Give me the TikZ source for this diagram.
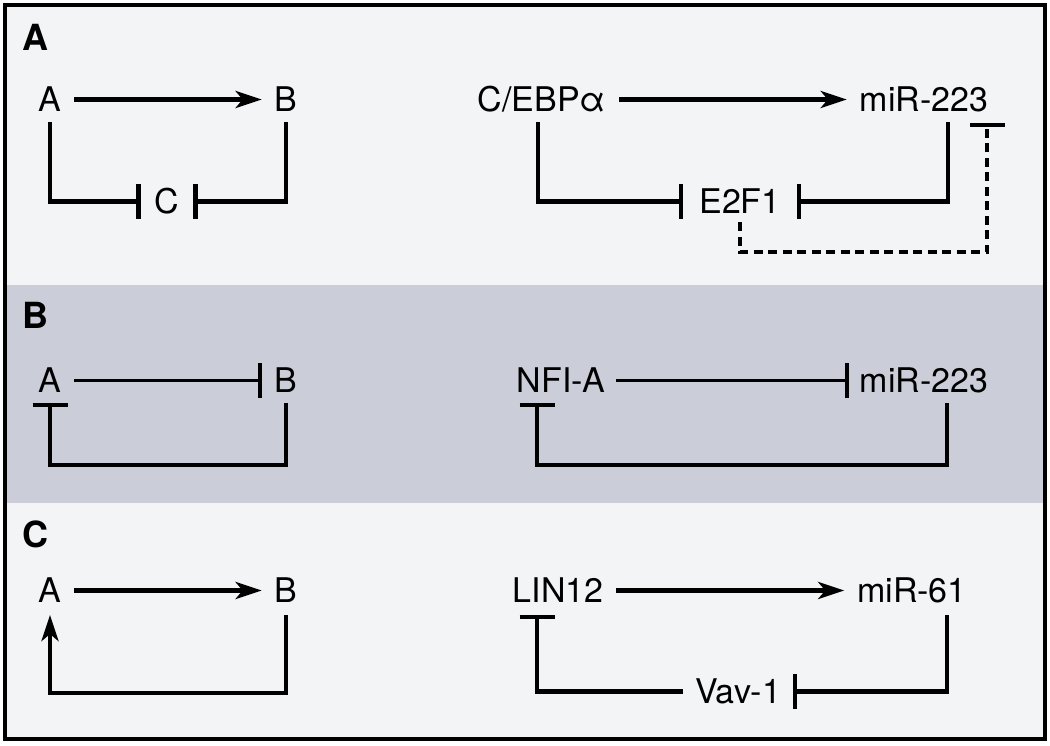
\documentclass[tikz,border=0pt]{standalone}
\usepackage{fontspec}
\setmainfont{TeX Gyre Heros}
\usetikzlibrary{arrows.meta}
\definecolor{lightbg}{HTML}{F3F4F6}
\definecolor{graybg}{HTML}{CBCDD9}
\begin{document}
\begin{tikzpicture}[x=1pt,y=1pt,
  lbl/.style={font=\fontsize{34}{38}\selectfont, inner sep=0pt, outer xsep=13pt, outer ysep=11pt,
              text height=23pt, text depth=0pt, anchor=base},
  plabel/.style={font=\bfseries\fontsize{36}{40}\selectfont, inner sep=0pt, anchor=base west},
  conn/.style={line width=4.4pt},
  act/.style={conn, -{Stealth[length=26pt,width=17pt,inset=7pt]}},
  inh/.style={conn, -{Bar[width=35pt]}},
  thin/.style={line width=3.2pt},
  dashline/.style={line width=4.2pt, dash pattern=on 9pt off 5.5pt}
]
\useasboundingbox (0,0) rectangle (1050,-745);
% backgrounds
\fill[white] (0,0) rectangle (1050,-745);
\fill[lightbg] (5,-5) rectangle (1045,-285);
\fill[graybg] (5,-285) rectangle (1045,-503);
\fill[lightbg] (5,-503) rectangle (1045,-739);
\draw[line width=4.5pt] (5,-5) rectangle (1045,-739);

% panel labels
\node[plabel] (pA) at (22,-50) {A};
\node[plabel] (pB) at (22,-328) {B};
\node[plabel] (pC) at (22,-547) {C};

% ---------- Panel A ----------
\node[lbl] (a1) at (50,-111) {A};
\node[lbl] (b1) at (286,-111) {B};
\node[lbl, outer xsep=14pt] (c1) at (167,-213) {C};
\draw[act] (a1) -- (b1);
\draw[inh] (a1.south) |- (c1.west);
\draw[inh] (b1.south) |- (c1.east);

\node[lbl] (cebp) at (542,-111) {C/EBPα};
\node[lbl] (mir1) at (924,-111) {miR-223};
\node[lbl, outer xsep=16pt, outer ysep=9pt] (e2f1) at (740,-213) {E2F1};
\draw[act] (cebp) -- (mir1);
\draw[inh] ([xshift=-4pt]cebp.south) |- (e2f1.west);
\draw[inh] ([xshift=24pt]mir1.south) |- (e2f1.east);
\coordinate (mirtee) at (987,-123);
\draw[dashline, -{Bar[width=35pt, line width=4.4pt]}] (e2f1.south) -- ++(0,-30) -| (mirtee);

% ---------- Panel B ----------
\node[lbl] (a2) at (50,-392) {A};
\node[lbl] (b2) at (286,-392) {B};
\draw[inh, line width=3.6pt] (a2) -- (b2);
\draw[inh] (b2.south) -- ++(0,-62) -| (a2.south);

\node[lbl, outer xsep=11pt] (nfia) at (561,-392) {NFI-A};
\node[lbl, outer xsep=11pt] (mir2) at (924,-392) {miR-223};
\draw[thin, -{Bar[width=35pt, line width=4pt]}] (nfia) -- (mir2);
\draw[inh] ([xshift=23pt]mir2.south) -- ++(0,-62) -| ([xshift=-24pt]nfia.south);

% ---------- Panel C ----------
\node[lbl, outer ysep=13pt] (a3) at (50,-602) {A};
\node[lbl, outer ysep=13pt] (b3) at (286,-602) {B};
\draw[act] (a3) -- (b3);
\draw[act] (b3.south) -- ++(0,-78) -| (a3.south);

\node[lbl, outer ysep=13pt] (lin) at (558,-602) {LIN12};
\node[lbl, outer ysep=13pt] (mir3) at (912,-602) {miR-61};
\node[lbl, outer xsep=12pt] (vav) at (738,-703) {Vav-1};
\draw[act] (lin) -- (mir3);
\draw[inh] ([xshift=35pt]mir3.south) |- (vav.east);
\draw[inh] (vav.west) -| ([xshift=-21pt]lin.south);
\end{tikzpicture}
\end{document}
